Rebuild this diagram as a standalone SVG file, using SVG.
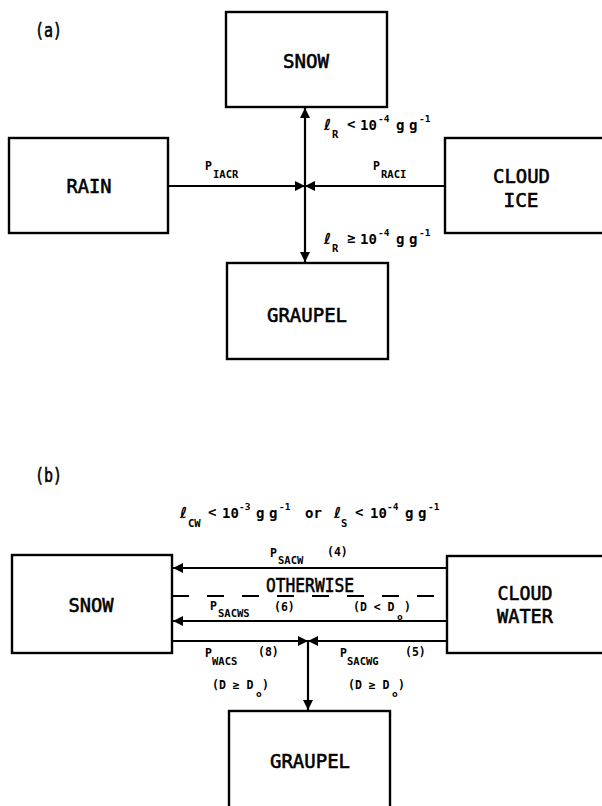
<svg xmlns="http://www.w3.org/2000/svg" width="602" height="806" viewBox="0 0 602 806">
<defs>
<marker id="arr" viewBox="0 0 10 10" refX="10" refY="5" markerWidth="10" markerHeight="11" markerUnits="userSpaceOnUse" orient="auto">
<path d="M0,0 L10,5 L0,10 z" fill="#000"/>
</marker>
</defs>
<style>
.box{fill:#fff;stroke:#000;stroke-width:2.4}
.ln{fill:none;stroke:#000;stroke-width:2.2}
.dash{fill:none;stroke:#000;stroke-width:2.2;stroke-dasharray:17 18}
.nt{font-family:"DejaVu Sans Mono","Liberation Mono",monospace;font-size:20px;fill:#000;stroke:#000;stroke-width:0.6;text-anchor:middle}
.pl{font-family:"DejaVu Sans Mono","Liberation Mono",monospace;font-size:20px;fill:#000;stroke:#000;stroke-width:0.6}
.s{font-family:"DejaVu Sans Mono","Liberation Mono",monospace;font-size:11.5px;font-weight:bold;fill:#000}
.c{font-family:"DejaVu Sans Mono","Liberation Mono",monospace;font-size:14px;font-weight:bold;fill:#000}
.sb{font-family:"DejaVu Sans Mono","Liberation Mono",monospace;font-size:10.5px;font-weight:bold;fill:#000}
.sp{font-family:"DejaVu Sans Mono","Liberation Mono",monospace;font-size:9.5px;font-weight:bold;fill:#000}
.el{font-family:"DejaVu Sans","Liberation Serif",serif;font-size:15px;font-weight:bold;fill:#000}
</style>

<!-- panel labels -->
<text class="pl" x="35" y="37" textLength="27" lengthAdjust="spacingAndGlyphs">(a)</text>
<text class="pl" x="35" y="482" textLength="27" lengthAdjust="spacingAndGlyphs">(b)</text>

<!-- panel (a) nodes -->
<g id="a-snow">
<rect class="box" x="226" y="12" width="161" height="95"/>
<text class="nt" x="306" y="68" textLength="46" lengthAdjust="spacingAndGlyphs">SNOW</text>
</g>
<g id="a-rain">
<rect class="box" x="9" y="138" width="159" height="95"/>
<text class="nt" x="89" y="193" textLength="45" lengthAdjust="spacingAndGlyphs">RAIN</text>
</g>
<g id="a-cloudice">
<rect class="box" x="445" y="138" width="162" height="95"/>
<text class="nt" x="521.5" y="183" textLength="57" lengthAdjust="spacingAndGlyphs">CLOUD</text>
<text class="nt" x="521" y="207" textLength="35" lengthAdjust="spacingAndGlyphs">ICE</text>
</g>
<g id="a-graupel">
<rect class="box" x="227" y="263" width="161" height="96"/>
<text class="nt" x="307" y="322" textLength="80" lengthAdjust="spacingAndGlyphs">GRAUPEL</text>
</g>

<!-- panel (b) nodes -->
<g id="b-snow">
<rect class="box" x="12" y="555" width="160" height="98"/>
<text class="nt" x="91" y="612" textLength="45" lengthAdjust="spacingAndGlyphs">SNOW</text>
</g>
<g id="b-cloudwater">
<rect class="box" x="447" y="556" width="160" height="97"/>
<text class="nt" x="525" y="600" textLength="55" lengthAdjust="spacingAndGlyphs">CLOUD</text>
<text class="nt" x="525" y="623" textLength="56" lengthAdjust="spacingAndGlyphs">WATER</text>
</g>
<g id="b-graupel">
<rect class="box" x="229" y="711" width="161" height="100"/>
<text class="nt" x="310" y="768" textLength="80" lengthAdjust="spacingAndGlyphs">GRAUPEL</text>
</g>

<!-- connectors -->
<g id="connectors">
<path class="ln" d="M168,186 H305" marker-end="url(#arr)"/>
<path class="ln" d="M445,186 H305" marker-end="url(#arr)"/>
<path class="ln" d="M305,186 V108" marker-end="url(#arr)"/>
<path class="ln" d="M305,186 V262" marker-end="url(#arr)"/>

<path class="ln" d="M447,568 H173" marker-end="url(#arr)"/>
<path class="dash" d="M172,596 H447"/>
<path class="ln" d="M447,621 H173" marker-end="url(#arr)"/>
<path class="ln" d="M172,641 H308" marker-end="url(#arr)"/>
<path class="ln" d="M447,641 H308" marker-end="url(#arr)"/>
<path class="ln" d="M308,641 V710" marker-end="url(#arr)"/>
</g>

<!-- labels (a) -->
<g id="labels-a">
<text class="s" x="205" y="170">P<tspan class="sb" x="213" y="178">IACR</tspan></text>
<text class="s" x="373" y="170">P<tspan class="sb" x="381" y="178">RACI</tspan></text>

<text class="c" y="130"><tspan class="el" x="324">ℓ</tspan><tspan class="sb" x="332" y="138">R</tspan><tspan x="347" y="129">&lt;</tspan><tspan x="360" y="130">10</tspan><tspan class="sp" x="378" y="122">-4</tspan><tspan x="396" y="130">g</tspan><tspan x="409">g</tspan><tspan class="sp" x="419" y="122">-1</tspan></text>

<text class="c" y="244"><tspan class="el" x="324">ℓ</tspan><tspan class="sb" x="332" y="252">R</tspan><tspan x="347" y="243">≥</tspan><tspan x="360" y="244">10</tspan><tspan class="sp" x="378" y="236">-4</tspan><tspan x="396" y="244">g</tspan><tspan x="409">g</tspan><tspan class="sp" x="419" y="236">-1</tspan></text>
</g>

<!-- labels (b) -->
<g id="labels-b">
<text class="c" y="518"><tspan class="el" x="180">ℓ</tspan><tspan class="sb" x="188" y="527">CW</tspan><tspan x="208" y="517">&lt;</tspan><tspan x="222" y="518">10</tspan><tspan class="sp" x="239" y="510">-3</tspan><tspan x="256" y="518">g</tspan><tspan x="269">g</tspan><tspan class="sp" x="279" y="510">-1</tspan><tspan x="305" y="518">or</tspan><tspan class="el" x="334">ℓ</tspan><tspan class="sb" x="341" y="527">S</tspan><tspan x="355" y="517">&lt;</tspan><tspan x="370" y="518">10</tspan><tspan class="sp" x="387" y="510">-4</tspan><tspan x="405" y="518">g</tspan><tspan x="418">g</tspan><tspan class="sp" x="428" y="510">-1</tspan></text>

<text class="s" x="270" y="557">P<tspan class="sb" x="278" y="564">SACW</tspan><tspan x="327" y="556">(4)</tspan></text>

<text class="pl" x="266" y="592" textLength="88" lengthAdjust="spacingAndGlyphs">OTHERWISE</text>

<text class="s" x="210" y="610">P<tspan class="sb" x="218" y="617">SACWS</tspan><tspan x="274" y="611">(6)</tspan></text>
<text class="s" x="353" y="611">(D &lt; D<tspan class="sp" x="397" y="620">o</tspan><tspan x="404" y="611">)</tspan></text>

<text class="s" x="205" y="657">P<tspan class="sb" x="212" y="665">WACS</tspan><tspan x="258" y="656">(8)</tspan></text>
<text class="s" x="340" y="657">P<tspan class="sb" x="347" y="665">SACWG</tspan><tspan x="405" y="656">(5)</tspan></text>

<text class="s" x="212" y="689">(D ≥ D<tspan class="sp" x="256" y="697">o</tspan><tspan x="262" y="689">)</tspan></text>
<text class="s" x="348" y="689">(D ≥ D<tspan class="sp" x="392" y="697">o</tspan><tspan x="398" y="689">)</tspan></text>
</g>
</svg>
